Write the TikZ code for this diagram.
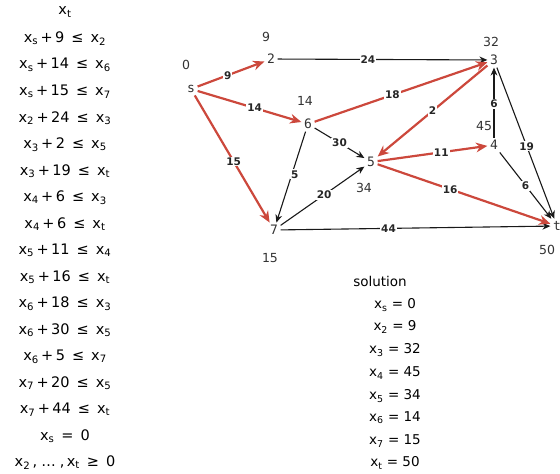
\documentclass[tikz,border=0pt]{standalone}
\usepackage{fontspec}
\setmainfont{DejaVu Sans}
\setmonofont{DejaVu Sans Mono}
\usepackage{tikz}
\usetikzlibrary{arrows.meta}
\definecolor{pathred}{RGB}{204,72,60}
\newcommand{\xv}[1]{x\textsubscript{#1}}
\tikzset{
  vert/.style={font=\ttfamily\fontsize{13}{13}\selectfont, text=black!80, inner sep=2.5pt},
  dist/.style={font=\fontsize{12.5}{12.5}\selectfont, text=black!80},
  edge/.style={-{Stealth[length=2.8mm,width=2.4mm]}, line width=1.1pt, draw=black!90},
  tight/.style={-{Stealth[length=4mm,width=3.4mm]}, line width=2.2pt, draw=pathred},
  wt/.style={fill=white, inner sep=1pt, font=\bfseries\fontsize{10.5}{10.5}\selectfont, text=black!85},
  eqn/.style={font=\fontsize{14.5}{14.5}\selectfont},
  soln/.style={font=\fontsize{13.5}{13.5}\selectfont}
}
\begin{document}
\begin{tikzpicture}[x=1pt,y=-1pt]
\useasboundingbox (0,0) rectangle (560,474);

% constraints
\foreach \txt [count=\i] in {
  {\xv{t}},
  {\xv{s}\,+\,9 \,≤\, \xv{2}},
  {\xv{s}\,+\,14 \,≤\, \xv{6}},
  {\xv{s}\,+\,15 \,≤\, \xv{7}},
  {\xv{2}\,+\,24 \,≤\, \xv{3}},
  {\xv{3}\,+\,2 \,≤\, \xv{5}},
  {\xv{3}\,+\,19 \,≤\, \xv{t}},
  {\xv{4}\,+\,6 \,≤\, \xv{3}},
  {\xv{4}\,+\,6 \,≤\, \xv{t}},
  {\xv{5}\,+\,11 \,≤\, \xv{4}},
  {\xv{5}\,+\,16 \,≤\, \xv{t}},
  {\xv{6}\,+\,18 \,≤\, \xv{3}},
  {\xv{6}\,+\,30 \,≤\, \xv{5}},
  {\xv{6}\,+\,5 \,≤\, \xv{7}},
  {\xv{7}\,+\,20 \,≤\, \xv{5}},
  {\xv{7}\,+\,44 \,≤\, \xv{t}},
  {\xv{s} \,=\, 0},
  {\xv{2}\,,\;\ldots\;,\,\xv{t} \,≥\, 0}}
  \node[eqn] (eq\i) at (65, {12+26.5*(\i-1)}) {\txt};

% vertices
\node[vert] (s) at (191,89) {s};
\node[vert] (v2) at (271,59) {2};
\node[vert] (v3) at (494,60) {3};
\node[vert] (v6) at (308,124) {6};
\node[vert] (v5) at (371,162) {5};
\node[vert] (v4) at (494,145) {4};
\node[vert] (v7) at (274,230) {7};
\node[vert] (t) at (557,226) {t};

% distances
\node[dist] (ds) at (186,65) {0};
\node[dist] (d2) at (266,37) {9};
\node[dist] (d3) at (491,42) {32};
\node[dist] (d6) at (305,101) {14};
\node[dist] (d5) at (364,188) {34};
\node[dist] (d7) at (270,258) {15};
\node[dist] (dt) at (547,250) {50};

% edges
\draw[edge] (v2) -- node[wt, pos=0.43] {24} (v3);
\draw[edge] (v6) -- node[wt] {30} (v5);
\draw[edge] (v6) -- node[wt, pos=0.47, xshift=3pt] {5} (v7);
\draw[edge] (v7) -- node[wt, pos=0.52] {20} (v5);
\draw[edge] (v7) -- node[wt, pos=0.4] {44} (t);
\draw[edge] (v4) -- node[wt, pos=0.48] {6} (v3);
\draw[edge] (v4) -- node[wt, pos=0.5] {6} (t);
\draw[edge] (v3) -- node[wt, pos=0.52] {19} (t);
\draw[tight] (s) -- node[wt, pos=0.45] {9} (v2);
\draw[tight] (s) -- node[wt, pos=0.55] {14} (v6);
\draw[tight] (s) -- node[wt, pos=0.52] {15} (v7);
\draw[tight] (v6) -- node[wt, pos=0.45] {18} (v3);
\draw[tight] (v3) -- node[wt, pos=0.5] {2} (v5);
\draw[tight] (v5) -- node[wt, pos=0.58] {11} (v4);
\draw[tight] (v5) -- node[wt, pos=0.42] {16} (t);
\node[dist, fill=white, inner sep=1pt] (d4) at (484,126) {45};

% solution
\node[soln] (sol) at (380,281) {solution};
\node[soln] (s1) at (395,305) {\xv{s} = 0};
\node[soln] (s2) at (395,327) {\xv{2} = 9};
\node[soln] (s3) at (395,350) {\xv{3} = 32};
\node[soln] (s4) at (395,373) {\xv{4} = 45};
\node[soln] (s5) at (395,396) {\xv{5} = 34};
\node[soln] (s6) at (395,418) {\xv{6} = 14};
\node[soln] (s7) at (395,441) {\xv{7} = 15};
\node[soln] (s8) at (395,463) {\xv{t} = 50};
\end{tikzpicture}
\end{document}
